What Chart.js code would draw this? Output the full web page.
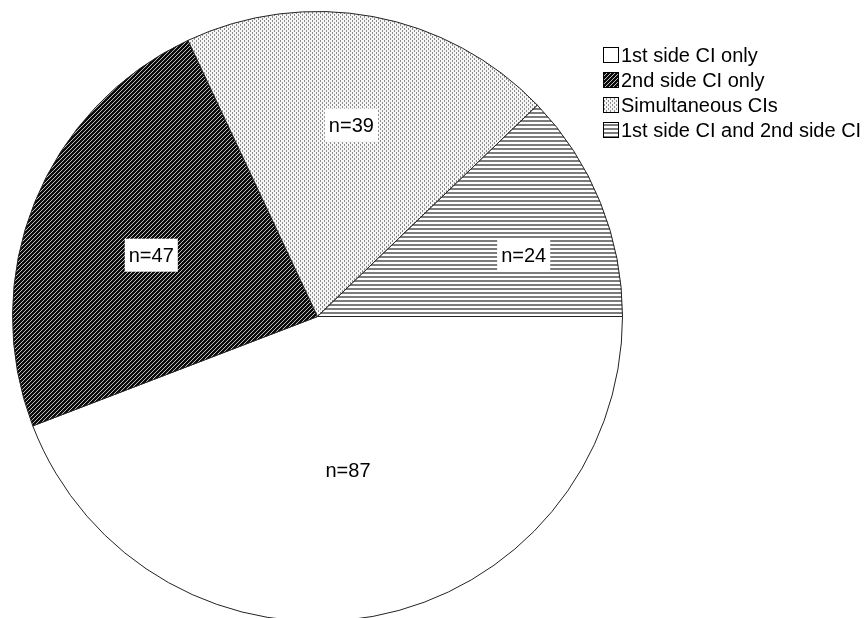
<!DOCTYPE html>
<html>
<head>
<meta charset="utf-8">
<script src="https://cdn.jsdelivr.net/npm/chart.js@4"></script>
<style>
  html, body { margin: 0; padding: 0; background: #fff; overflow: hidden; }
  #wrap { position: relative; width: 867px; height: 630px; }
</style>
</head>
<body>
<div id="wrap"><canvas id="pie"></canvas></div>
<script>
// ── Dados ─────────────────────────────────
const categorias = ['1st side CI only', '2nd side CI only', 'Simultaneous CIs', '1st side CI and 2nd side CI'];
const valores    = [87, 47, 39, 24];
const rotulos    = ['n=87', 'n=47', 'n=39', 'n=24'];

// posição do rótulo relativa ao centro (fração do raio)
const labelOffset = [[0.100, 0.506], [-0.545, -0.201], [0.111, -0.627], [0.676, -0.201]];

// ── Padrões de preenchimento ──────────────
function tile(w, h, draw) {
  const c = document.createElement('canvas');
  c.width = w; c.height = h;
  const g = c.getContext('2d');
  draw(g);
  return g.createPattern(c, 'repeat');
}

const padraoBranco = '#ffffff';

const padraoHachura = tile(4, 4, g => {
  g.fillStyle = '#0c0c0c';
  g.fillRect(0, 0, 4, 4);
  g.strokeStyle = '#d4d4d4';
  g.lineWidth = 0.9;
  g.beginPath();
  g.moveTo(0, 4); g.lineTo(4, 0);
  g.moveTo(-1, 1); g.lineTo(1, -1);
  g.moveTo(3, 5); g.lineTo(5, 3);
  g.stroke();
});

const padraoPontos = tile(4, 4, g => {
  g.fillStyle = '#f6f6f6';
  g.fillRect(0, 0, 4, 4);
  g.fillStyle = '#8c8c8c';
  g.fillRect(0, 0, 1, 2);
  g.fillRect(2, 2, 1, 2);
});

const padraoLinhas = tile(4, 4, g => {
  g.fillStyle = '#ffffff';
  g.fillRect(0, 0, 4, 4);
  g.fillStyle = '#7c7c7c';
  g.fillRect(0, 0, 4, 2);
});

const preenchimentos = [padraoBranco, padraoHachura, padraoPontos, padraoLinhas];

// ── Rótulos n=.. ──────────────────────────
const rotulosPlugin = {
  id: 'rotulos',
  afterDatasetsDraw(chart) {
    const ctx = chart.ctx;
    const meta = chart.getDatasetMeta(0);
    ctx.save();
    ctx.font = '20px "Liberation Sans", Arial, sans-serif';
    ctx.textAlign = 'center';
    ctx.textBaseline = 'middle';
    meta.data.forEach((arc, i) => {
      const p = arc.getProps(['x', 'y', 'outerRadius'], true);
      const x = p.x + labelOffset[i][0] * p.outerRadius;
      const y = p.y + labelOffset[i][1] * p.outerRadius;
      const tw = ctx.measureText(rotulos[i]).width;
      ctx.fillStyle = '#fff';
      ctx.fillRect(x - tw / 2 - 4, y - 16.5, tw + 8, 33);
      ctx.fillStyle = '#000';
      ctx.fillText(rotulos[i], x, y + 1);
    });
    ctx.restore();
  }
};

// ── Legenda ───────────────────────────────
const legendaPlugin = {
  id: 'legenda',
  afterDraw(chart) {
    const ctx = chart.ctx;
    const x0 = 603, y0 = 55, passo = 25, box = 16;
    ctx.save();
    ctx.font = '20px "Liberation Sans", Arial, sans-serif';
    ctx.textBaseline = 'middle';
    ctx.textAlign = 'left';
    categorias.forEach((cat, i) => {
      const y = y0 + i * passo;
      ctx.fillStyle = preenchimentos[i];
      ctx.fillRect(x0, y - box / 2, box, box);
      ctx.strokeStyle = '#000';
      ctx.lineWidth = 1;
      ctx.strokeRect(x0 + 0.5, y - box / 2 + 0.5, box - 1, box - 1);
      ctx.fillStyle = '#000';
      ctx.fillText(cat, x0 + box + 2, y + 1);
    });
    ctx.restore();
  }
};

// ── Pizza ─────────────────────────────────
new Chart(document.getElementById('pie').getContext('2d'), {
  type: 'pie',
  data: {
    labels: categorias,
    datasets: [{
      data: valores,
      backgroundColor: preenchimentos,
      borderColor: '#222',
      borderWidth: 1,
      hoverOffset: 0,
      hoverBorderWidth: 1
    }]
  },
  options: {
    responsive: true,
    maintainAspectRatio: false,
    animation: false,
    rotation: 90,
    layout: { padding: { left: 12, top: 11, right: 244, bottom: 8 } },
    plugins: {
      legend: { display: false },
      tooltip: { enabled: false }
    }
  },
  plugins: [rotulosPlugin, legendaPlugin]
});
</script>
</body>
</html>
